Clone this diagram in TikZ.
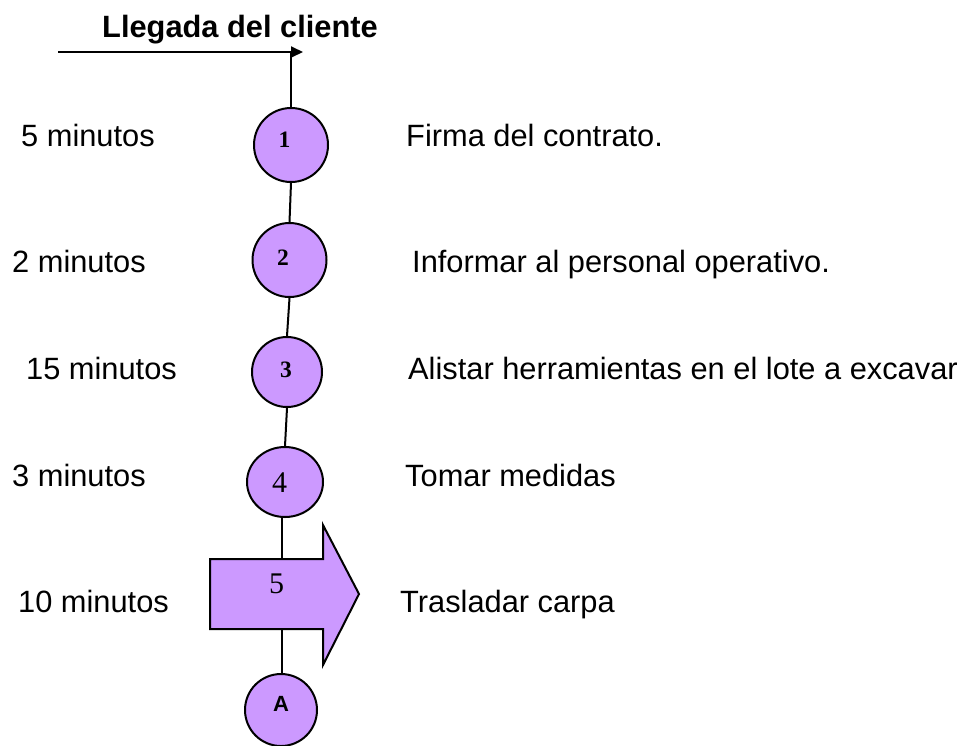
\documentclass[tikz,border=0pt]{standalone}
\usepackage{fontspec}
\setmainfont{Liberation Sans}
\newfontfamily\serifnum{Liberation Serif}
\usetikzlibrary{arrows.meta,shapes.geometric}
\definecolor{lila}{HTML}{CC99FF}
\tikzset{
  conn/.style={draw=black,line width=2pt},
  opcircle/.style={circle,draw=black,line width=2pt,fill=lila,inner sep=0pt},
  sidetext/.style={anchor=base west,inner sep=0pt,font=\fontsize{30.8}{36}\selectfont},
  boldnum/.style={inner sep=0pt,font=\serifnum\bfseries\fontsize{23.5}{26}\selectfont},
  plainnum/.style={inner sep=0pt,font=\serifnum\fontsize{30}{34}\selectfont},
}
\begin{document}
\begin{tikzpicture}[x=1pt,y=-1pt]
\useasboundingbox (0,0) rectangle (971,745);
% title
\node[anchor=base west,inner sep=0pt,font=\bfseries\fontsize{30.8}{36}\selectfont] (title) at (102,37) {Llegada del cliente};
\coordinate (start) at (58,52);
\coordinate (tip) at (303,52);
% circles
\node[opcircle,minimum size=74pt] (c1) at (291,145) {};
\node[opcircle,minimum size=74pt] (c2) at (289.5,260) {};
\node[opcircle,minimum size=70pt] (c3) at (287,372) {};
\node[ellipse,draw=black,line width=2pt,fill=lila,inner sep=0pt,minimum width=76pt,minimum height=70pt] (c4) at (285,482) {};
\node[opcircle,minimum size=72pt] (cA) at (281,710) {};
% arrow shape (operation 5)
\node[inner sep=0pt,minimum width=113pt,minimum height=70pt] (arr) at (266.5,594) {};
\draw[line width=2pt,fill=lila,line join=miter] (210,559) -- (323,559) -- (323,525) -- (359,594) -- (323,665) -- (323,629) -- (210,629) -- cycle;
% labels inside
\node[boldnum] (l1) at (284.5,140) {1};
\node[boldnum] (l2) at (283,258) {2};
\node[boldnum] (l3) at (286,370) {3};
\node[plainnum] (l4) at (279.5,483) {4};
\node[plainnum] (l5) at (276.5,584) {5};
\node[inner sep=0pt,font=\bfseries\fontsize{22}{25}\selectfont] (lA) at (281,704) {A};
% connectors
\draw[conn,-{Triangle[length=12pt,width=11pt]}] (start) -- (tip);
\draw[conn] (c1.north) -- (c1.north |- start);
\draw[conn] (c1.south) -- (c2.north);
\draw[conn] (c2.south) -- (c3.north);
\draw[conn] (c3.south) -- (c4.north);
\draw[conn] (c4.south -| 282,0) -- (arr.north -| 282,0);
\draw[conn] (arr.south -| 282,0) -- (cA.north -| 282,0);
% left times
\node[sidetext] (t1) at (21,146) {5 minutos};
\node[sidetext] (t2) at (12,272) {2 minutos};
\node[sidetext] (t3) at (26,379) {15 minutos};
\node[sidetext] (t4) at (12,486) {3 minutos};
\node[sidetext] (t5) at (18,612) {10 minutos};
% right descriptions
\node[sidetext] (d1) at (406,146) {Firma del contrato.};
\node[sidetext] (d2) at (412,272) {Informar al personal operativo.};
\node[sidetext] (d3) at (408,379) {Alistar herramientas en el lote a excavar};
\node[sidetext] (d4) at (405,486) {Tomar medidas};
\node[sidetext] (d5) at (400,612) {Trasladar carpa};
\end{tikzpicture}
\end{document}
